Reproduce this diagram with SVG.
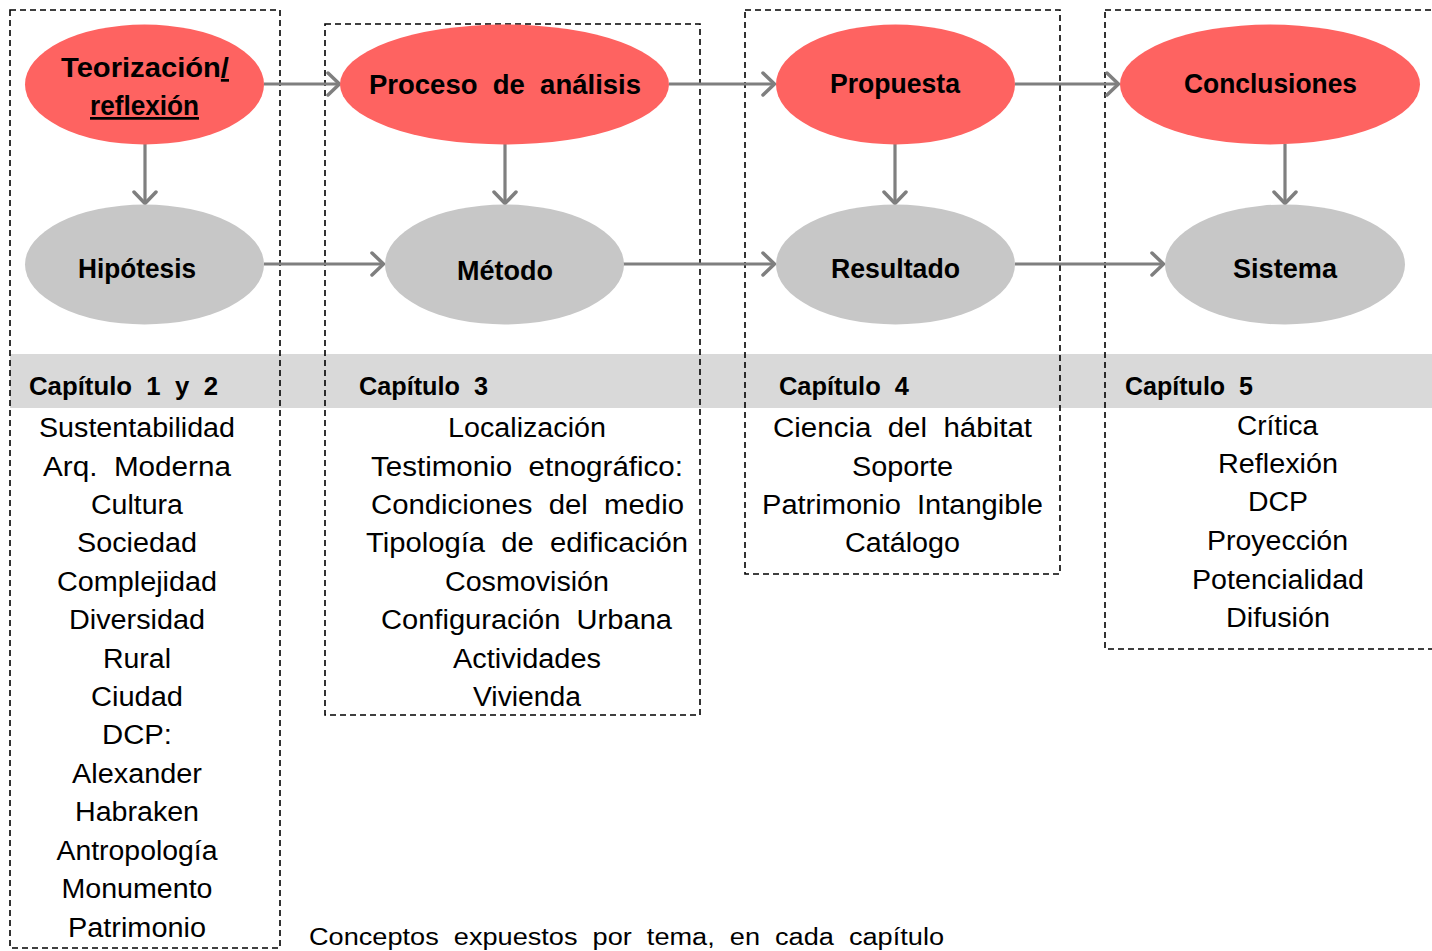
<svg xmlns="http://www.w3.org/2000/svg" width="1432" height="951" viewBox="0 0 1432 951">
<defs>
<marker id="ah" viewBox="0 0 16 26" refX="14" refY="13" markerWidth="16" markerHeight="26" markerUnits="userSpaceOnUse" orient="auto">
<path d="M2,2 L13.5,13 L2,24" fill="none" stroke="#7f7f7f" stroke-width="3.5" stroke-linecap="round"/>
</marker>
<style>
text{white-space:pre}
.box{fill:none;stroke:#000;stroke-width:1.6;stroke-dasharray:6 4}
.red{fill:#fe6361}
.gry{fill:#c7c7c7}
.hd{font-family:"Liberation Sans",Arial,sans-serif;font-weight:bold;font-size:27px;fill:#000;text-anchor:middle}
.ch{font-family:"Liberation Sans",Arial,sans-serif;font-weight:bold;font-size:25px;fill:#000}
.it{font-family:"Liberation Sans",Arial,sans-serif;font-size:27px;fill:#000;text-anchor:middle}
.cap{font-family:"Liberation Sans",Arial,sans-serif;font-size:23px;fill:#000}
.con{fill:none;stroke:#7f7f7f;stroke-width:3.2;marker-end:url(#ah)}
</style>
</defs>
<rect x="0" y="0" width="1432" height="951" fill="#fff"/>
<rect id="band" x="10" y="354" width="1422" height="54" fill="#d9d9d9"/>
<g id="boxes">
<rect class="box" x="10" y="10" width="270" height="938"/>
<rect class="box" x="325" y="24" width="375" height="691"/>
<rect class="box" x="745" y="10" width="315" height="564"/>
<rect class="box" x="1105" y="10" width="340" height="639"/>
</g>
<g id="connectors">
<line class="con" x1="264" y1="84" x2="340" y2="84"/>
<line class="con" x1="669" y1="84" x2="775" y2="84"/>
<line class="con" x1="1015" y1="84" x2="1119" y2="84"/>
<line class="con" x1="264" y1="264" x2="384" y2="264"/>
<line class="con" x1="610" y1="264" x2="775" y2="264"/>
<line class="con" x1="1015" y1="264" x2="1164" y2="264"/>
<line class="con" x1="145" y1="144" x2="145" y2="204"/>
<line class="con" x1="505" y1="144" x2="505" y2="204"/>
<line class="con" x1="895" y1="144" x2="895" y2="204"/>
<line class="con" x1="1285" y1="144" x2="1285" y2="204"/>
</g>
<g id="n-teorizacion">
<ellipse class="red" cx="144.5" cy="84.5" rx="119.5" ry="60"/>
<text class="hd" x="145" y="77" textLength="168" lengthAdjust="spacingAndGlyphs">Teorización<tspan text-decoration="underline">/</tspan></text>
<text class="hd" x="144.5" y="115" textLength="109" lengthAdjust="spacingAndGlyphs" text-decoration="underline">reflexión</text>
</g>
<g id="n-proceso">
<ellipse class="red" cx="504.5" cy="84.5" rx="164.5" ry="60"/>
<text class="hd" x="505" y="94" textLength="272" lengthAdjust="spacingAndGlyphs">Proceso  de  análisis</text>
</g>
<g id="n-propuesta">
<ellipse class="red" cx="895.5" cy="84.5" rx="119.5" ry="60"/>
<text class="hd" x="895" y="93" textLength="130" lengthAdjust="spacingAndGlyphs">Propuesta</text>
</g>
<g id="n-conclusiones">
<ellipse class="red" cx="1270" cy="84.5" rx="150" ry="60"/>
<text class="hd" x="1270.5" y="93" textLength="173" lengthAdjust="spacingAndGlyphs">Conclusiones</text>
</g>
<g id="n-hipotesis">
<ellipse class="gry" cx="144.5" cy="264.5" rx="119.5" ry="60"/>
<text class="hd" x="137" y="278" textLength="118" lengthAdjust="spacingAndGlyphs">Hipótesis</text>
</g>
<g id="n-metodo">
<ellipse class="gry" cx="504.5" cy="264.5" rx="119.5" ry="60"/>
<text class="hd" x="505" y="280" textLength="96" lengthAdjust="spacingAndGlyphs">Método</text>
</g>
<g id="n-resultado">
<ellipse class="gry" cx="895.5" cy="264.5" rx="119.5" ry="60"/>
<text class="hd" x="895.5" y="278" textLength="129" lengthAdjust="spacingAndGlyphs">Resultado</text>
</g>
<g id="n-sistema">
<ellipse class="gry" cx="1285" cy="264.5" rx="120" ry="60"/>
<text class="hd" x="1285" y="278" textLength="104" lengthAdjust="spacingAndGlyphs">Sistema</text>
</g>
<g id="chapters">
<text class="ch" x="29" y="395" textLength="189" lengthAdjust="spacingAndGlyphs">Capítulo  1  y  2</text>
<text class="ch" x="359" y="395" textLength="129" lengthAdjust="spacingAndGlyphs">Capítulo  3</text>
<text class="ch" x="779" y="395" textLength="130" lengthAdjust="spacingAndGlyphs">Capítulo  4</text>
<text class="ch" x="1125" y="395" textLength="128" lengthAdjust="spacingAndGlyphs">Capítulo  5</text>
</g>
<g id="list1">
<text class="it" x="137" y="437" textLength="196" lengthAdjust="spacingAndGlyphs">Sustentabilidad</text>
<text class="it" x="137" y="476" textLength="188" lengthAdjust="spacingAndGlyphs">Arq.  Moderna</text>
<text class="it" x="137" y="514" textLength="92" lengthAdjust="spacingAndGlyphs">Cultura</text>
<text class="it" x="137" y="552" textLength="120" lengthAdjust="spacingAndGlyphs">Sociedad</text>
<text class="it" x="137" y="591" textLength="160" lengthAdjust="spacingAndGlyphs">Complejidad</text>
<text class="it" x="137" y="629" textLength="136" lengthAdjust="spacingAndGlyphs">Diversidad</text>
<text class="it" x="137" y="668" textLength="68" lengthAdjust="spacingAndGlyphs">Rural</text>
<text class="it" x="137" y="706" textLength="92" lengthAdjust="spacingAndGlyphs">Ciudad</text>
<text class="it" x="137" y="744" textLength="70" lengthAdjust="spacingAndGlyphs">DCP:</text>
<text class="it" x="137" y="783" textLength="130" lengthAdjust="spacingAndGlyphs">Alexander</text>
<text class="it" x="137" y="821" textLength="124" lengthAdjust="spacingAndGlyphs">Habraken</text>
<text class="it" x="137" y="860" textLength="161" lengthAdjust="spacingAndGlyphs">Antropología</text>
<text class="it" x="137" y="898" textLength="151" lengthAdjust="spacingAndGlyphs">Monumento</text>
<text class="it" x="137" y="937" textLength="138" lengthAdjust="spacingAndGlyphs">Patrimonio</text>
</g>
<g id="list2">
<text class="it" x="527" y="437" textLength="158" lengthAdjust="spacingAndGlyphs">Localización</text>
<text class="it" x="527" y="476" textLength="312" lengthAdjust="spacingAndGlyphs">Testimonio  etnográfico:</text>
<text class="it" x="527.5" y="514" textLength="313" lengthAdjust="spacingAndGlyphs">Condiciones  del  medio</text>
<text class="it" x="527" y="552" textLength="322" lengthAdjust="spacingAndGlyphs">Tipología  de  edificación</text>
<text class="it" x="527" y="591" textLength="164" lengthAdjust="spacingAndGlyphs">Cosmovisión</text>
<text class="it" x="526.5" y="629" textLength="291" lengthAdjust="spacingAndGlyphs">Configuración  Urbana</text>
<text class="it" x="527" y="668" textLength="148" lengthAdjust="spacingAndGlyphs">Actividades</text>
<text class="it" x="527" y="706" textLength="108" lengthAdjust="spacingAndGlyphs">Vivienda</text>
</g>
<g id="list3">
<text class="it" x="902.5" y="437" textLength="259" lengthAdjust="spacingAndGlyphs">Ciencia  del  hábitat</text>
<text class="it" x="902.5" y="476" textLength="101" lengthAdjust="spacingAndGlyphs">Soporte</text>
<text class="it" x="902.5" y="514" textLength="281" lengthAdjust="spacingAndGlyphs">Patrimonio  Intangible</text>
<text class="it" x="902.5" y="552" textLength="115" lengthAdjust="spacingAndGlyphs">Catálogo</text>
</g>
<g id="list4">
<text class="it" x="1277.5" y="435" textLength="81" lengthAdjust="spacingAndGlyphs">Crítica</text>
<text class="it" x="1278" y="473" textLength="120" lengthAdjust="spacingAndGlyphs">Reflexión</text>
<text class="it" x="1278" y="511" textLength="60" lengthAdjust="spacingAndGlyphs">DCP</text>
<text class="it" x="1277.5" y="550" textLength="141" lengthAdjust="spacingAndGlyphs">Proyección</text>
<text class="it" x="1278" y="589" textLength="172" lengthAdjust="spacingAndGlyphs">Potencialidad</text>
<text class="it" x="1278" y="627" textLength="104" lengthAdjust="spacingAndGlyphs">Difusión</text>
</g>
<g id="caption">
<text class="cap" x="309" y="945" textLength="635" lengthAdjust="spacingAndGlyphs">Conceptos  expuestos  por  tema,  en  cada  capítulo</text>
</g>
</svg>
